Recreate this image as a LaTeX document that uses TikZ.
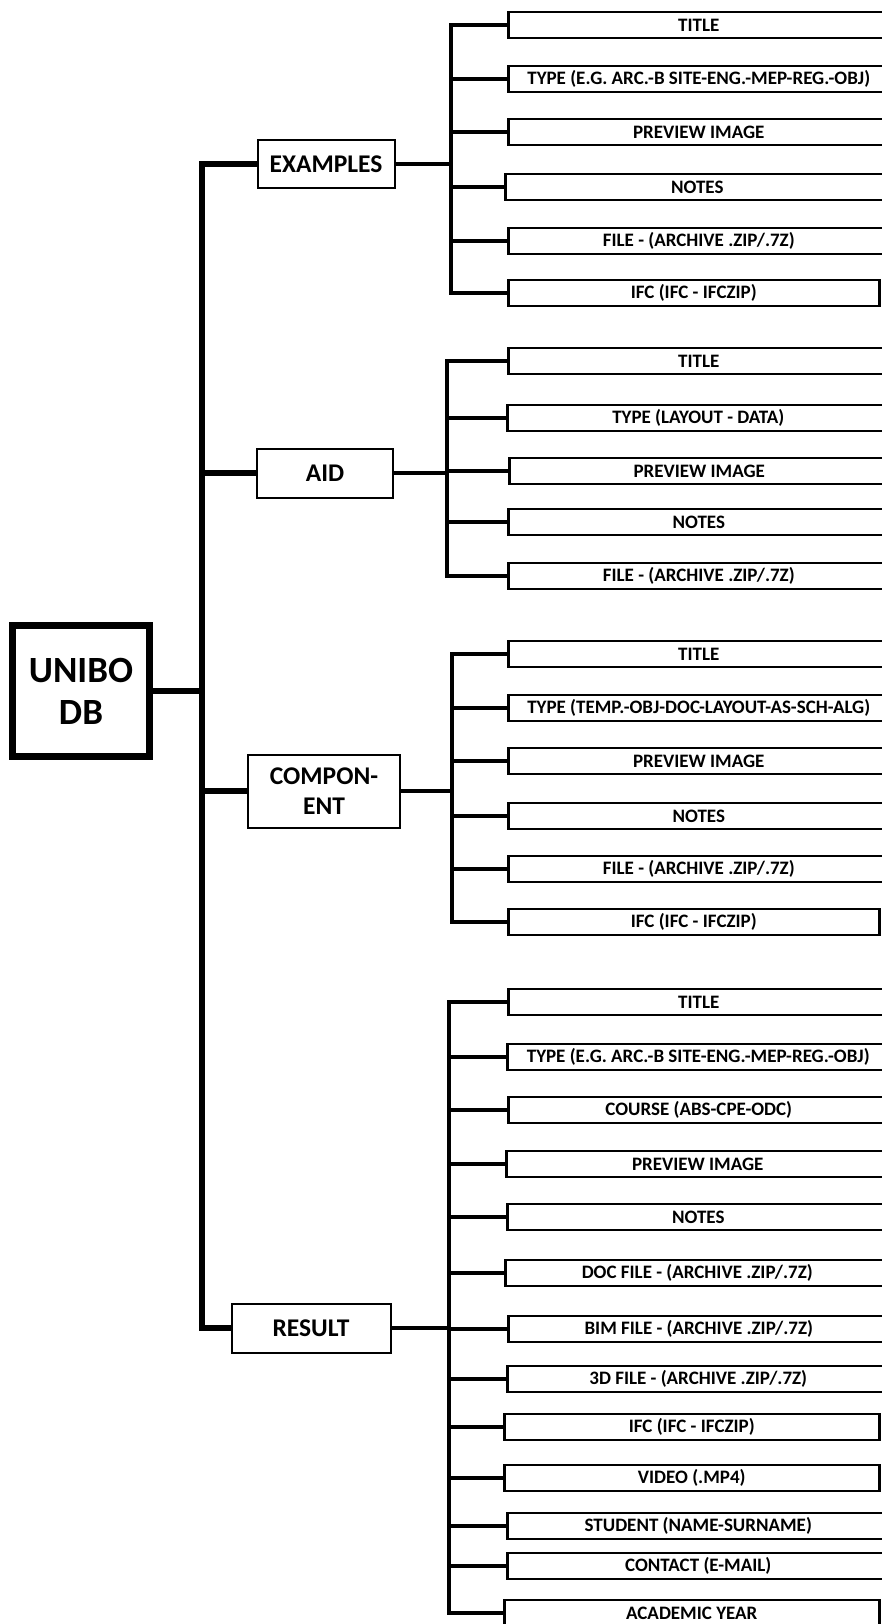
\documentclass[tikz,border=0pt]{standalone}
\usepackage{fontspec}
\setmainfont{Carlito}

\begin{document}
\begin{tikzpicture}[x=1pt, y=-1pt,
    root/.style={draw, line width=7pt, minimum width=137pt, minimum height=131pt, inner sep=0pt, align=center, font=\fontsize{37}{42}\selectfont\bfseries},
    cat/.style={draw, line width=2pt, inner sep=0pt, align=center, font=\fontsize{25.5}{30}\selectfont\bfseries},
    leaf/.style={draw, line width=2.5pt, anchor=west, minimum height=26pt, inner sep=0pt, font=\fontsize{19}{22}\selectfont\bfseries},
    trunk/.style={line width=6pt},
    twig/.style={line width=4.5pt}]
    \useasboundingbox (0,0) rectangle (882,1624);

    \node[root] (db) at (81,691) {UNIBO\\DB};
    \coordinate (spine) at (202,691);

    \node[cat, minimum width=137pt, minimum height=48pt] (examples) at (326,164) {EXAMPLES};
    \node[cat, minimum width=136pt, minimum height=49pt] (aid) at (325,473) {AID};
    \node[cat, minimum width=152pt, minimum height=73pt] (component) at (324,791) {COMPON-\\ENT};
    \node[cat, minimum width=159pt, minimum height=49pt] (result) at (311,1328) {RESULT};

    \foreach \c in {examples,aid,component,result}
        \draw[trunk] (db.east) -- (spine) |- (\c.west);

    \coordinate (esub) at (451,0);
    \coordinate (asub) at (447,0);
    \coordinate (csub) at (452,0);
    \coordinate (rsub) at (449,0);

    % examples
    \foreach \n/\x/\r/\y/\txt in {e1/507/888/25/{TITLE},
        e2/507/888/79/{TYPE (E.G. ARC.-B SITE-ENG.-MEP-REG.-OBJ)},
        e3/507/888/132/{PREVIEW IMAGE},
        e4/504/888/187/{NOTES},
        e5/507/888/241/{FILE - (ARCHIVE .ZIP/.7Z)},
        e6/507/878/293/{IFC (IFC - IFCZIP)}} {
        \node[leaf, minimum width=\r-\x] (\n) at (\x,\y) {\txt};
        \draw[twig] (examples.east) -- (examples.east -| esub) |- (\n.west);
    }

    % aid
    \foreach \n/\x/\r/\y/\txt in {a1/507/888/361/{TITLE},
        a2/506/888/418/{TYPE (LAYOUT - DATA)},
        a3/508/888/471/{PREVIEW IMAGE},
        a4/507/888/522/{NOTES},
        a5/507/888/576/{FILE - (ARCHIVE .ZIP/.7Z)}} {
        \node[leaf, minimum width=\r-\x] (\n) at (\x,\y) {\txt};
        \draw[twig] (aid.east) -- (aid.east -| asub) |- (\n.west);
    }

    % component
    \foreach \n/\x/\r/\y/\txt in {c1/507/888/654/{TITLE},
        c2/507/888/708/{TYPE (TEMP.-OBJ-DOC-LAYOUT-AS-SCH-ALG)},
        c3/507/888/761/{PREVIEW IMAGE},
        c4/507/888/816/{NOTES},
        c5/507/888/869/{FILE - (ARCHIVE .ZIP/.7Z)},
        c6/507/878/922/{IFC (IFC - IFCZIP)}} {
        \node[leaf, minimum width=\r-\x] (\n) at (\x,\y) {\txt};
        \draw[twig] (component.east) -- (component.east -| csub) |- (\n.west);
    }

    % result
    \foreach \n/\x/\r/\y/\txt in {r1/507/888/1002/{TITLE},
        r2/506/888/1057/{TYPE (E.G. ARC.-B SITE-ENG.-MEP-REG.-OBJ)},
        r3/507/888/1110/{COURSE (ABS-CPE-ODC)},
        r4/505/888/1164/{PREVIEW IMAGE},
        r5/506/888/1217/{NOTES},
        r6/504/888/1273/{DOC FILE - (ARCHIVE .ZIP/.7Z)},
        r7/507/888/1329/{BIM FILE - (ARCHIVE .ZIP/.7Z)},
        r8/506/888/1379/{3D FILE - (ARCHIVE .ZIP/.7Z)},
        r9/503/878/1427/{IFC (IFC - IFCZIP)},
        r10/503/878/1478/{VIDEO (.MP4)},
        r11/506/888/1526/{STUDENT (NAME-SURNAME)},
        r12/506/888/1566/{CONTACT (E-MAIL)},
        r13/503/878/1613/{ACADEMIC YEAR}} {
        \node[leaf, minimum width=\r-\x] (\n) at (\x,\y) {\txt};
        \draw[twig] (result.east) -- (result.east -| rsub) |- (\n.west);
    }
\end{tikzpicture}
\end{document}
